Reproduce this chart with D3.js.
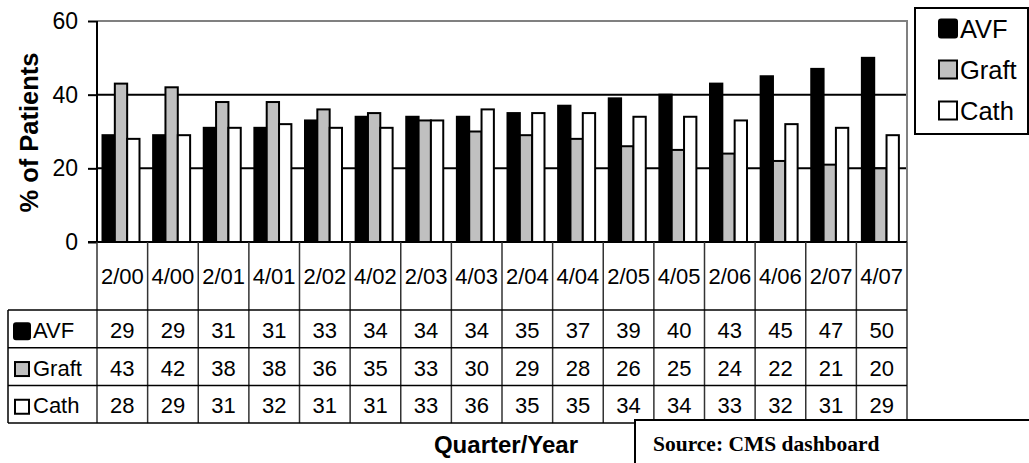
<!DOCTYPE html>
<html>
<head>
<meta charset="utf-8">
<script src="https://cdn.jsdelivr.net/npm/d3@7/dist/d3.min.js"></script>
<style>
  html, body { margin: 0; padding: 0; background: #fff; }
  svg { display: block; font-family: "Liberation Sans", Arial, sans-serif; }
</style>
</head>
<body>
<svg id="chart" width="1029" height="463"></svg>
<script>
// Share of patients by vascular access type, per quarter
const quarters = ["2/00","4/00","2/01","4/01","2/02","4/02","2/03","4/03","2/04","4/04","2/05","4/05","2/06","4/06","2/07","4/07"];
const seriesNames = ["AVF", "Graft", "Cath"];
const avf   = [29,29,31,31,33,34,34,34,35,37,39,40,43,45,47,50];
const graft = [43,42,38,38,36,35,33,30,29,28,26,25,24,22,21,20];
const cath  = [28,29,31,32,31,31,33,36,35,35,34,34,33,32,31,29];
const yTicks = [0, 20, 40, 60];

const seriesValues = { AVF: avf, Graft: graft, Cath: cath };
const fills = { AVF: "#000000", Graft: "#c0c0c0", Cath: "#ffffff" };

const svg = d3.select("#chart");

const plot = { left: 97, right: 907, top: 21, bottom: 242 };

const x = d3.scaleBand().domain(quarters).range([plot.left, plot.right]).padding(0);
const x1 = d3.scaleBand().domain(seriesNames).range([5.5, 42.5]).padding(0);
const y = d3.scaleLinear().domain([0, 60]).range([plot.bottom, plot.top]);

// Gridlines at 20 and 40
svg.append("g")
  .selectAll("line")
  .data(yTicks.filter(t => t > 0 && t < 60))
  .join("line")
  .attr("x1", plot.left).attr("x2", plot.right)
  .attr("y1", d => y(d)).attr("y2", d => y(d))
  .attr("stroke", "#000").attr("stroke-width", 2);

// Gray plot frame (top and right)
svg.append("path")
  .attr("d", `M${plot.left},${y(60)}H${plot.right}V${plot.bottom}`)
  .attr("fill", "none").attr("stroke", "#808080").attr("stroke-width", 2);

// Bars
const rows = quarters.map((q, i) => ({ q, values: seriesNames.map(s => ({ s, v: seriesValues[s][i] })) }));
svg.append("g")
  .selectAll("g")
  .data(rows)
  .join("g")
  .attr("transform", d => `translate(${x(d.q)},0)`)
  .selectAll("rect")
  .data(d => d.values)
  .join("rect")
  .attr("x", d => x1(d.s))
  .attr("y", d => y(d.v))
  .attr("width", x1.bandwidth())
  .attr("height", d => y(0) - y(d.v))
  .attr("fill", d => fills[d.s])
  .attr("stroke", "#000")
  .attr("stroke-width", 2);

// Y axis
const yAxis = svg.append("g")
  .attr("transform", `translate(${plot.left},0)`)
  .call(d3.axisLeft(y).tickValues(yTicks).tickSize(9).tickPadding(10).tickFormat(d3.format("d")));
yAxis.select(".domain").attr("stroke", "#000").attr("stroke-width", 2).attr("d", `M0,${y(60)}V${y(0)}`);
yAxis.selectAll(".tick line").attr("stroke", "#000").attr("stroke-width", 2);
yAxis.selectAll(".tick text").attr("font-size", 23).attr("fill", "#000")
  .attr("font-family", "Liberation Sans, Arial, sans-serif");

// Baseline
svg.append("line")
  .attr("x1", plot.left - 9).attr("x2", plot.right)
  .attr("y1", y(0)).attr("y2", y(0))
  .attr("stroke", "#000").attr("stroke-width", 2);

// Y axis title
svg.append("text")
  .attr("transform", `translate(38,${(plot.top + plot.bottom) / 2 + 1}) rotate(-90)`)
  .attr("text-anchor", "middle")
  .attr("font-size", 25.5).attr("font-weight", "bold")
  .text("% of Patients");

// Data table below the axis
const table = { labelLeft: 8, headerBottom: 310, rowH: 37.7 };
const tableRows = seriesNames.map((s, i) => ({ s, top: table.headerBottom + i * table.rowH }));
const tableBottom = table.headerBottom + seriesNames.length * table.rowH;
const tg = svg.append("g");

// Vertical column separators
tg.selectAll("line.col")
  .data(quarters.concat(["end"]))
  .join("line")
  .attr("class", "col")
  .attr("x1", (d, i) => plot.left + i * x.bandwidth())
  .attr("x2", (d, i) => plot.left + i * x.bandwidth())
  .attr("y1", y(0)).attr("y2", tableBottom)
  .attr("stroke", "#333").attr("stroke-width", 1.5);

// Horizontal row separators
tg.selectAll("line.row")
  .data(d3.range(seriesNames.length + 1))
  .join("line")
  .attr("class", "row")
  .attr("x1", table.labelLeft).attr("x2", plot.right)
  .attr("y1", i => table.headerBottom + i * table.rowH)
  .attr("y2", i => table.headerBottom + i * table.rowH)
  .attr("stroke", "#000").attr("stroke-width", 1.5);

tg.append("line")
  .attr("x1", table.labelLeft).attr("x2", table.labelLeft)
  .attr("y1", table.headerBottom).attr("y2", tableBottom)
  .attr("stroke", "#000").attr("stroke-width", 1.5);

// Quarter header labels
tg.selectAll("text.q")
  .data(quarters)
  .join("text")
  .attr("class", "q")
  .attr("x", d => x(d) + x.bandwidth() / 2)
  .attr("y", (y(0) + table.headerBottom) / 2)
  .attr("dy", "0.38em")
  .attr("text-anchor", "middle")
  .attr("font-size", 22)
  .text(d => d);

// Row labels with keys
tableRows.forEach(r => {
  const cy = r.top + table.rowH / 2;
  const big = r.s === "AVF";
  const k = big ? 16 : 14;
  tg.append("rect")
    .attr("x", big ? 14 : 15).attr("y", cy + 2.5 - k / 2).attr("width", k).attr("height", k)
    .attr("rx", big ? 2 : 0)
    .attr("fill", fills[r.s]).attr("stroke", "#000").attr("stroke-width", 2);
  tg.append("text")
    .attr("x", 33).attr("y", cy).attr("dy", "0.42em")
    .attr("font-size", 22)
    .text(r.s);
  tg.selectAll(null)
    .data(seriesValues[r.s])
    .join("text")
    .attr("x", (d, i) => x(quarters[i]) + x.bandwidth() / 2)
    .attr("y", cy).attr("dy", "0.42em")
    .attr("text-anchor", "middle")
    .attr("font-size", 22)
    .text(d => d);
});

// X axis title
svg.append("text")
  .attr("x", 506).attr("y", 453)
  .attr("text-anchor", "middle")
  .attr("font-size", 24).attr("font-weight", "bold")
  .text("Quarter/Year");

// Legend
const legend = svg.append("g");
legend.append("rect")
  .attr("x", 915).attr("y", 8).attr("width", 113).attr("height", 126)
  .attr("fill", "#fff").attr("stroke", "#000").attr("stroke-width", 2);
seriesNames.forEach((s, i) => {
  const cy = 28.5 + i * 41;
  legend.append("rect")
    .attr("x", 939).attr("y", cy - 9).attr("width", 18).attr("height", 18)
    .attr("rx", s === "AVF" ? 2 : 0)
    .attr("fill", fills[s]).attr("stroke", "#000").attr("stroke-width", 2);
  legend.append("text")
    .attr("x", 960).attr("y", cy).attr("dy", "0.36em")
    .attr("font-size", 25.5)
    .text(s);
});

// Source note
svg.append("rect")
  .attr("x", 635).attr("y", 420).attr("width", 420).attr("height", 80)
  .attr("fill", "#fff").attr("stroke", "#000").attr("stroke-width", 2);
svg.append("text")
  .attr("x", 653).attr("y", 451)
  .attr("font-family", "Liberation Serif, Times New Roman, serif")
  .attr("font-size", 21.5).attr("font-weight", "bold")
  .text("Source: CMS dashboard");
</script>
</body>
</html>
